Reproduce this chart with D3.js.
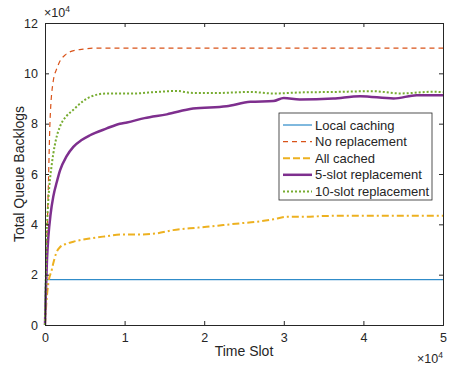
<!DOCTYPE html>
<html>
<head>
<meta charset="utf-8">
<script src="https://cdn.jsdelivr.net/npm/d3@7"></script>
<style>
  body { margin: 0; background: #fff; }
  text { font-family: "Liberation Sans", Arial, sans-serif; fill: #262626; }
</style>
</head>
<body>
<div id="chart"></div>
<script>
// values in units of 1e4 (both axes)
var xTicks = [0, 1, 2, 3, 4, 5];
var yTicks = [0, 2, 4, 6, 8, 10, 12];

var localX = [0, 0.006, 5];
var localY = [0, 1.8, 1.8];

var noReplX = [0, 0.01, 0.02, 0.042, 0.063, 0.104, 0.15, 0.19, 0.25, 0.31, 0.39, 0.48, 0.6, 5];
var noReplY = [0, 1.5, 2.9, 5.5, 8.1, 9.7, 10.2, 10.5, 10.72, 10.85, 10.92, 10.96, 11.0, 11.0];

var allCachedX = [0, 0.02, 0.042, 0.084, 0.1, 0.14, 0.19, 0.26, 0.356, 0.565, 0.75, 0.98, 1.2, 1.4, 1.61, 1.82, 2.03, 2.24, 2.45, 2.66, 2.87, 3.04, 3.29, 3.5, 3.71, 5.0];
var allCachedY = [0, 1.0, 1.66, 2.18, 2.4, 2.85, 3.1, 3.22, 3.31, 3.44, 3.52, 3.6, 3.6, 3.64, 3.77, 3.84, 3.9, 3.97, 4.04, 4.1, 4.2, 4.3, 4.3, 4.33, 4.34, 4.34];

var slot5X = [0, 0.013, 0.025, 0.042, 0.07, 0.104, 0.15, 0.19, 0.27, 0.356, 0.46, 0.565, 0.775, 0.94, 1.03, 1.25, 1.53, 1.86, 2.28, 2.58, 2.87, 3.0, 3.2, 3.62, 3.96, 4.38, 4.67, 5.0];
var slot5Y = [0, 1.5, 2.6, 3.5, 4.4, 5.1, 5.7, 6.15, 6.7, 7.08, 7.35, 7.54, 7.81, 8.0, 8.05, 8.22, 8.37, 8.6, 8.69, 8.87, 8.9, 9.02, 8.96, 9.0, 9.09, 9.0, 9.13, 9.13];

var slot10X = [0, 0.01, 0.02, 0.035, 0.054, 0.08, 0.104, 0.14, 0.19, 0.27, 0.356, 0.46, 0.565, 0.775, 1.11, 1.4, 1.65, 1.86, 2.16, 2.58, 2.87, 3.2, 3.62, 4.12, 4.46, 4.88, 5.0];
var slot10Y = [0, 1.8, 3.5, 4.6, 5.5, 6.25, 6.8, 7.4, 7.9, 8.3, 8.55, 8.85, 9.06, 9.2, 9.2, 9.26, 9.3, 9.22, 9.22, 9.26, 9.2, 9.24, 9.26, 9.29, 9.2, 9.27, 9.25];

var names = ["Local caching", "No replacement", "All cached", "5-slot replacement", "10-slot replacement"];

var svgWidth = 452;
var svgHeight = 370;
var margin = { top: 23, right: 9, bottom: 45, left: 45 };
var width = svgWidth - margin.left - margin.right;
var height = svgHeight - margin.top - margin.bottom;

var svg = d3.select("#chart")
  .append("svg")
  .attr("width", svgWidth)
  .attr("height", svgHeight);

var chartGroup = svg.append("g")
  .attr("transform", `translate(${margin.left}, ${margin.top})`);

var xScale = d3.scaleLinear().domain([0, 5]).range([0, width]);
var yScale = d3.scaleLinear().domain([0, 12]).range([height, 0]);

// series
var series = [
  { xs: localX, ys: localY, color: "#0072BD", w: 1, dash: null },
  { xs: noReplX, ys: noReplY, color: "#D95319", w: 1.2, dash: "5,4" },
  { xs: allCachedX, ys: allCachedY, color: "#EDB120", w: 2, dash: "7,3,2,3" },
  { xs: slot5X, ys: slot5Y, color: "#7E2F8E", w: 2.5, dash: null },
  { xs: slot10X, ys: slot10Y, color: "#77AC30", w: 2, dash: "2,2" }
];

var line = d3.line()
  .x(d => xScale(d[0]))
  .y(d => yScale(d[1]))
  .curve(d3.curveMonotoneX);

series.forEach(function(s) {
  var pts = s.xs.map((x, i) => [x, s.ys[i]]);
  chartGroup.append("path")
    .datum(pts)
    .attr("d", line)
    .attr("fill", "none")
    .attr("stroke", s.color)
    .attr("stroke-width", s.w)
    .attr("stroke-dasharray", s.dash);
});

// axes (ticks inward, box)
var tickLen = 4;
chartGroup.append("g")
  .attr("transform", `translate(0, ${height})`)
  .call(d3.axisBottom(xScale).tickValues(xTicks).tickSize(-tickLen).tickPadding(8).tickFormat(d3.format("d")));
chartGroup.append("g")
  .call(d3.axisTop(xScale).tickValues(xTicks).tickSize(-tickLen).tickFormat(""));
chartGroup.append("g")
  .call(d3.axisLeft(yScale).tickValues(yTicks).tickSize(-tickLen).tickPadding(7).tickFormat(d3.format("d")));
chartGroup.append("g")
  .attr("transform", `translate(${width}, 0)`)
  .call(d3.axisRight(yScale).tickValues(yTicks).tickSize(-tickLen).tickFormat(""));

chartGroup.selectAll(".domain").attr("stroke", "#262626");
chartGroup.selectAll(".tick line").attr("stroke", "#262626");
chartGroup.selectAll(".tick text").attr("font-size", "12.5px").attr("fill", "#262626");

// exponent labels
var expTop = chartGroup.append("text").attr("x", -1).attr("y", -6).attr("font-size", "12.5px");
expTop.append("tspan").text("\u00d710");
expTop.append("tspan").attr("font-size", "8.5px").attr("dy", -5).text("4");

var expBot = chartGroup.append("text").attr("x", width).attr("y", height + 38).attr("text-anchor", "end").attr("font-size", "12.5px");
expBot.append("tspan").text("\u00d710");
expBot.append("tspan").attr("font-size", "8.5px").attr("dy", -5).text("4");

// axis labels
chartGroup.append("text")
  .attr("x", width / 2)
  .attr("y", height + 31)
  .attr("text-anchor", "middle")
  .attr("font-size", "14px")
  .text("Time Slot");

chartGroup.append("text")
  .attr("transform", "rotate(-90)")
  .attr("x", -height / 2)
  .attr("y", -21)
  .attr("text-anchor", "middle")
  .attr("font-size", "14px")
  .text("Total Queue Backlogs");

// legend
var legend = chartGroup.append("g")
  .attr("transform", `translate(${279 - margin.left}, ${113 - margin.top})`);
legend.append("rect")
  .attr("width", 153)
  .attr("height", 87)
  .attr("fill", "#fff")
  .attr("stroke", "#262626")
  .attr("stroke-width", 0.8);

names.forEach(function(n, i) {
  var y = 12 + i * 16.6;
  var s = series[i];
  legend.append("line")
    .attr("x1", 4).attr("x2", 33)
    .attr("y1", y).attr("y2", y)
    .attr("stroke", s.color)
    .attr("stroke-width", s.w)
    .attr("stroke-dasharray", i === 2 ? "7,3" : s.dash);
  legend.append("text")
    .attr("x", 36)
    .attr("y", y + 4.5)
    .attr("font-size", "13px")
    .text(n);
});
</script>
</body>
</html>
